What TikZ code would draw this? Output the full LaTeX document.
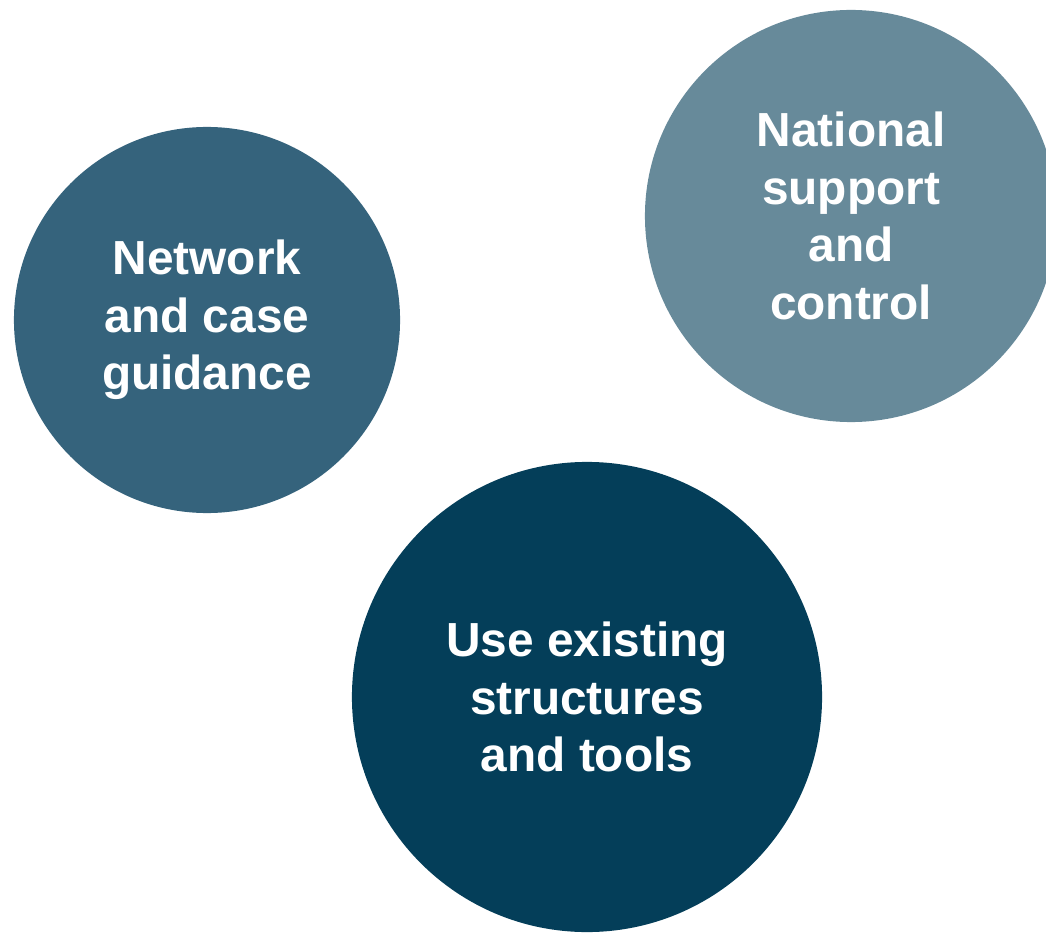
\documentclass[tikz,border=0pt]{standalone}
\usepackage{fontspec}
\setmainfont{Liberation Sans}
\usepackage{tikz}
\definecolor{netblue}{RGB}{53,99,124}
\definecolor{natblue}{RGB}{103,138,154}
\definecolor{useblue}{RGB}{4,62,89}
\tikzset{bubble/.style={circle, inner sep=0pt, text=white, align=center,
    font=\bfseries\fontsize{34}{41}\selectfont}}

\begin{document}
\begin{tikzpicture}[x=0.025cm, y=-0.025cm]
    \useasboundingbox (0, 0) rectangle (1046, 938);
    \node[bubble, fill=netblue, minimum size=9.65cm](net) at (207, 320){Network\\and case\\guidance};
    \node[bubble, fill=natblue, minimum size=10.3cm](nat) at (851, 216){National\\support\\and\\control};
    \node[bubble, fill=useblue, minimum size=11.75cm](use) at (587, 697){Use existing\\structures\\and tools};
\end{tikzpicture}
\end{document}
